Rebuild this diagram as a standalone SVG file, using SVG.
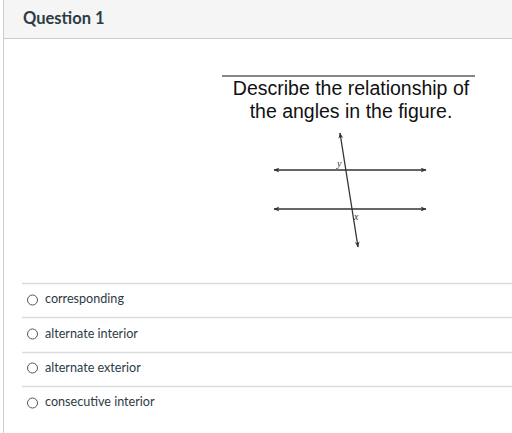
<svg xmlns="http://www.w3.org/2000/svg" width="512" height="433" viewBox="0 0 512 433">
<style>
.opt{font-family:Lato,"Liberation Sans",sans-serif;font-size:12.6px;fill:#2d3b45}
.sep{stroke:#d9dcde;stroke-width:1.5}
.radio{fill:#fff;stroke:#555;stroke-width:1}
.q{font-family:Arial,"Liberation Sans",sans-serif;font-size:19.5px;fill:#111;text-anchor:middle}
.ln{stroke:#333;stroke-width:1.3;fill:none}
.lbl{font-family:"Liberation Serif",serif;font-style:italic;font-size:10px;fill:#333}
</style>
<defs>
<marker id="ah" viewBox="0 0 10 10" refX="9" refY="5" markerWidth="6" markerHeight="6" orient="auto-start-reverse" markerUnits="userSpaceOnUse">
<path d="M0,1 L10,5 L0,9 L3,5 Z" fill="#333"/>
</marker>
</defs>
<rect width="512" height="433" fill="#fff"/>
<g id="header">
<rect x="3" y="0" width="509" height="38" fill="#f5f5f5"/>
<line x1="3" y1="38.5" x2="512" y2="38.5" stroke="#c7cdd1" stroke-width="1"/>
<text x="23" y="24" font-family="Lato,'Liberation Sans',sans-serif" font-size="16.5" font-weight="bold" fill="#2d3b45">Question 1</text>
</g>
<line x1="3.5" y1="0" x2="3.5" y2="433" stroke="#c7cdd1" stroke-width="1"/>
<g id="prompt">
<line x1="222" y1="76" x2="475" y2="76" stroke="#111" stroke-width="1.2"/>
<text class="q" x="351" y="95">Describe the relationship of</text>
<text class="q" x="351" y="118">the angles in the figure.</text>
</g>
<g id="figure">
<line class="ln" x1="274" y1="170" x2="426" y2="170" marker-start="url(#ah)" marker-end="url(#ah)"/>
<line class="ln" x1="274" y1="209" x2="426" y2="209" marker-start="url(#ah)" marker-end="url(#ah)" stroke-width="1.6"/>
<line class="ln" x1="340" y1="133" x2="358" y2="247" marker-start="url(#ah)" marker-end="url(#ah)"/>
<text class="lbl" x="337" y="167">y</text>
<text class="lbl" x="354" y="220">x</text>
</g>
<g id="options">
<line class="sep" x1="22" y1="283.5" x2="512" y2="283.5"/>
<line class="sep" x1="22" y1="317.5" x2="512" y2="317.5"/>
<line class="sep" x1="22" y1="352.5" x2="512" y2="352.5"/>
<line class="sep" x1="22" y1="386.5" x2="512" y2="386.5"/>
<g id="opt1"><circle class="radio" cx="32.5" cy="300" r="5"/><text class="opt" x="45" y="303">corresponding</text></g>
<g id="opt2"><circle class="radio" cx="32.5" cy="334" r="5"/><text class="opt" x="45" y="338">alternate interior</text></g>
<g id="opt3"><circle class="radio" cx="32.5" cy="368" r="5"/><text class="opt" x="45" y="372">alternate exterior</text></g>
<g id="opt4"><circle class="radio" cx="32.5" cy="403" r="5"/><text class="opt" x="45" y="406">consecutive interior</text></g>
</g>
</svg>
